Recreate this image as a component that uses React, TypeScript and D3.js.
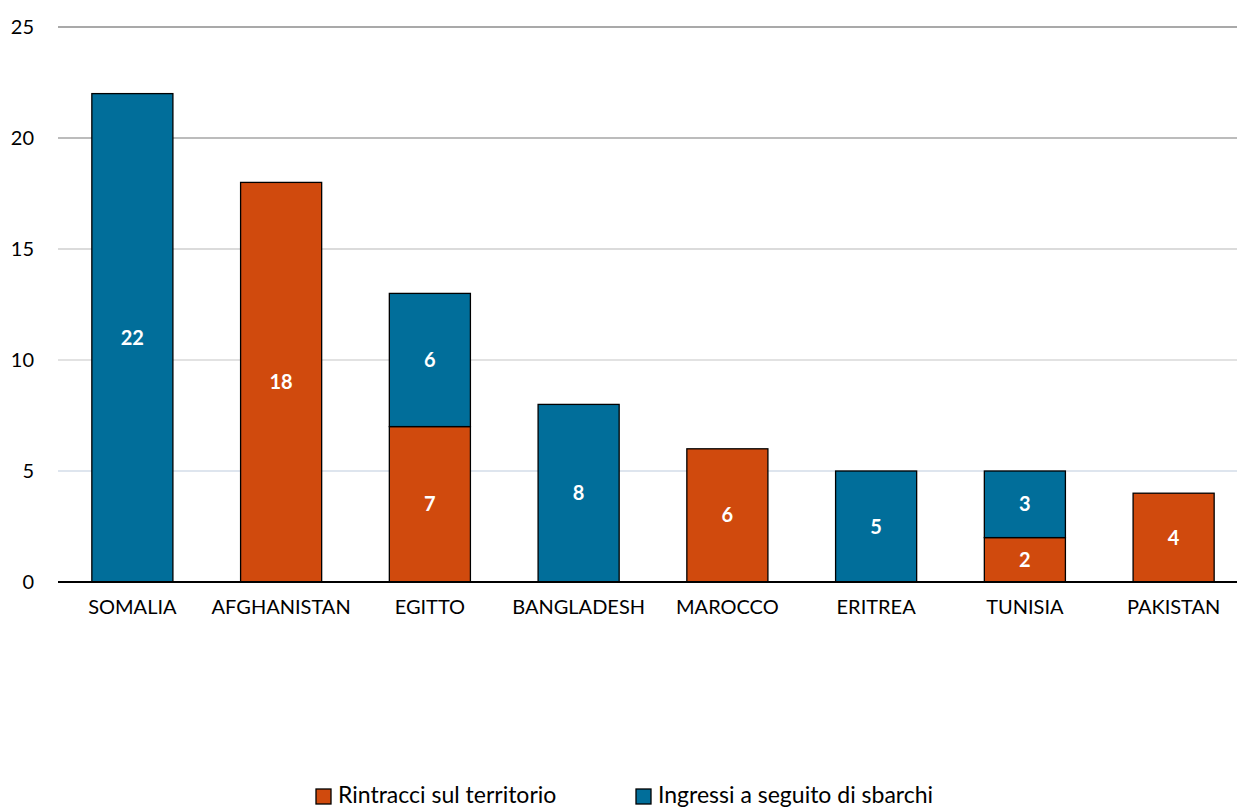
import React from "react";
import * as d3 from "d3";

const categories = ["SOMALIA", "AFGHANISTAN", "EGITTO", "BANGLADESH", "MAROCCO", "ERITREA", "TUNISIA", "PAKISTAN"];
const rintracci = [0, 18, 7, 0, 6, 0, 2, 4];
const ingressi = [22, 0, 6, 8, 0, 5, 3, 0];
const yTicks = [0, 5, 10, 15, 20, 25];
const seriesNames = ["Rintracci sul territorio", "Ingressi a seguito di sbarchi"];
const colors = ["#D04A0D", "#016E9A"];
const gridColors: Record<number, string> = { 5: "#d3dde8", 10: "#d9d9d9", 15: "#cfcfcf", 20: "#a6a6a6", 25: "#8c8c8c" };

const W = 1237, H = 808;
const FONT = "Lato, 'Open Sans', sans-serif";

export default function App() {
  const x = d3.scaleBand<string>().domain(categories).range([58, 1248]).paddingInner(0.455).paddingOuter(0.2275);
  const y = d3.scaleLinear().domain([0, 25]).range([582, 27]);
  const stack = d3.stack<any>().keys(["r", "i"])(categories.map((c, k) => ({ c, r: rintracci[k], i: ingressi[k] })));

  return (
    <svg width={W} height={H} style={{ position: "absolute", left: 0, top: 0, background: "#fff" }}>
      {yTicks.map((t) => (
        <g key={t}>
          {t > 0 && (
            <line x1={58} x2={1237} y1={y(t)} y2={y(t)} stroke={gridColors[t]} strokeWidth={1.3} />
          )}
          <text x={34} y={y(t)} dy="0.35em" textAnchor="end" fontFamily={FONT} fontSize={20} fill="#000">{t}</text>
        </g>
      ))}
      {stack.map((layer, si) =>
        layer.map((d, k) => {
          const v = d[1] - d[0];
          if (v <= 0) return null;
          const x0 = x(categories[k])!;
          return (
            <g key={si + "-" + k}>
              <rect x={x0} y={y(d[1])} width={x.bandwidth()} height={y(d[0]) - y(d[1])} fill={colors[si]} stroke="#000" strokeWidth={1.3} />
              <text x={x0 + x.bandwidth() / 2} y={(y(d[0]) + y(d[1])) / 2} dy="0.35em" textAnchor="middle" fontFamily={FONT} fontWeight="bold" fontSize={20} fill="#fff">{v}</text>
            </g>
          );
        })
      )}
      <line x1={58} x2={1237} y1={y(0)} y2={y(0)} stroke="#000" strokeWidth={2} />
      {categories.map((c) => (
        <text key={c} x={x(c)! + x.bandwidth() / 2} y={614} textAnchor="middle" fontFamily={FONT} fontSize={20} fill="#000">{c}</text>
      ))}
      {seriesNames.map((n, i) => {
        const lx = i === 0 ? 316 : 636;
        return (
          <g key={n}>
            <rect x={lx} y={789} width={15} height={15} fill={colors[i]} stroke="#000" strokeWidth={1.3} />
            <text x={lx + 22} y={795} dy="0.35em" fontFamily={FONT} fontSize={23} fill="#000">{n}</text>
          </g>
        );
      })}
    </svg>
  );
}
